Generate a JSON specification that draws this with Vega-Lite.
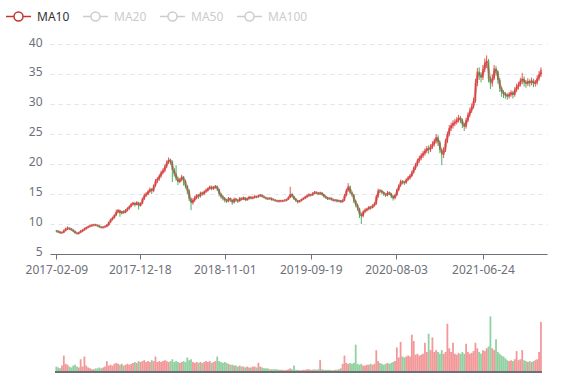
{
"$schema": "https://vega.github.io/schema/vega-lite/v6.json",
"width": 497, "height": 328,
"padding": {"left": 5, "top": 3, "right": 30, "bottom": 8},
"config": {"view": {"stroke": null}, "font": "Noto Sans"},
"data": {"values": [
{"d":"2017-02-09","o":8.9,"c":8.8,"l":8.6,"h":9.0,"m":8.85,"v":30},
{"d":"2017-02-16","o":8.8,"c":8.7,"l":8.5,"h":8.9,"m":8.75,"v":25},
{"d":"2017-02-23","o":8.7,"c":8.5,"l":8.4,"h":8.8,"m":8.6,"v":20},
{"d":"2017-03-02","o":8.5,"c":8.6,"l":8.4,"h":8.7,"m":8.55,"v":35},
{"d":"2017-03-09","o":8.6,"c":8.9,"l":8.5,"h":9.1,"m":8.75,"v":90},
{"d":"2017-03-16","o":8.9,"c":9.2,"l":8.8,"h":9.4,"m":9.05,"v":45},
{"d":"2017-03-23","o":9.2,"c":9.3,"l":9.0,"h":9.6,"m":9.25,"v":40},
{"d":"2017-03-30","o":9.3,"c":9.2,"l":9.0,"h":9.4,"m":9.25,"v":30},
{"d":"2017-04-06","o":9.2,"c":9.0,"l":8.9,"h":9.3,"m":9.1,"v":25},
{"d":"2017-04-13","o":9.0,"c":8.8,"l":8.7,"h":9.1,"m":8.9,"v":35},
{"d":"2017-04-20","o":8.8,"c":8.5,"l":8.4,"h":8.9,"m":8.65,"v":40},
{"d":"2017-04-27","o":8.5,"c":8.4,"l":8.3,"h":8.6,"m":8.45,"v":30},
{"d":"2017-05-04","o":8.4,"c":8.6,"l":8.3,"h":8.7,"m":8.5,"v":25},
{"d":"2017-05-11","o":8.6,"c":8.8,"l":8.5,"h":9.0,"m":8.7,"v":70},
{"d":"2017-05-18","o":8.8,"c":9.0,"l":8.7,"h":9.1,"m":8.9,"v":30},
{"d":"2017-05-25","o":9.0,"c":9.2,"l":8.9,"h":9.4,"m":9.1,"v":85},
{"d":"2017-06-01","o":9.2,"c":9.4,"l":9.1,"h":9.5,"m":9.3,"v":35},
{"d":"2017-06-08","o":9.4,"c":9.6,"l":9.3,"h":9.7,"m":9.5,"v":25},
{"d":"2017-06-15","o":9.6,"c":9.7,"l":9.5,"h":9.9,"m":9.65,"v":20},
{"d":"2017-06-22","o":9.7,"c":9.8,"l":9.6,"h":9.9,"m":9.75,"v":15},
{"d":"2017-06-29","o":9.8,"c":9.9,"l":9.7,"h":10.0,"m":9.85,"v":15},
{"d":"2017-07-06","o":9.9,"c":9.8,"l":9.7,"h":10.0,"m":9.85,"v":20},
{"d":"2017-07-13","o":9.8,"c":9.7,"l":9.6,"h":9.9,"m":9.75,"v":20},
{"d":"2017-07-20","o":9.7,"c":9.5,"l":9.4,"h":9.8,"m":9.6,"v":25},
{"d":"2017-07-27","o":9.5,"c":9.4,"l":9.3,"h":9.6,"m":9.45,"v":20},
{"d":"2017-08-03","o":9.4,"c":9.5,"l":9.3,"h":9.6,"m":9.45,"v":25},
{"d":"2017-08-10","o":9.5,"c":9.6,"l":9.4,"h":9.7,"m":9.55,"v":30},
{"d":"2017-08-17","o":9.6,"c":9.8,"l":9.5,"h":10.0,"m":9.7,"v":60},
{"d":"2017-08-24","o":9.8,"c":10.3,"l":9.7,"h":10.4,"m":10.05,"v":35},
{"d":"2017-08-31","o":10.3,"c":10.8,"l":10.2,"h":10.9,"m":10.55,"v":40},
{"d":"2017-09-07","o":10.8,"c":11.0,"l":10.6,"h":11.2,"m":10.9,"v":35},
{"d":"2017-09-14","o":11.0,"c":11.5,"l":10.9,"h":11.6,"m":11.25,"v":45},
{"d":"2017-09-21","o":11.5,"c":12.0,"l":11.3,"h":12.4,"m":11.75,"v":50},
{"d":"2017-09-28","o":12.0,"c":12.3,"l":11.8,"h":12.5,"m":12.15,"v":45},
{"d":"2017-10-05","o":12.3,"c":11.8,"l":11.2,"h":12.4,"m":12.05,"v":40},
{"d":"2017-10-12","o":11.8,"c":12.1,"l":11.6,"h":12.2,"m":11.95,"v":45},
{"d":"2017-10-19","o":12.1,"c":11.9,"l":11.7,"h":12.3,"m":12.0,"v":35},
{"d":"2017-10-26","o":11.9,"c":12.3,"l":11.8,"h":12.5,"m":12.1,"v":40},
{"d":"2017-11-02","o":12.3,"c":12.6,"l":12.1,"h":12.8,"m":12.45,"v":45},
{"d":"2017-11-09","o":12.6,"c":12.9,"l":12.4,"h":13.1,"m":12.75,"v":40},
{"d":"2017-11-16","o":12.9,"c":13.3,"l":12.8,"h":13.5,"m":13.1,"v":45},
{"d":"2017-11-23","o":13.3,"c":13.5,"l":13.1,"h":13.7,"m":13.4,"v":50},
{"d":"2017-11-30","o":13.5,"c":13.2,"l":12.9,"h":13.6,"m":13.35,"v":55},
{"d":"2017-12-07","o":13.2,"c":13.6,"l":13.1,"h":13.8,"m":13.4,"v":50},
{"d":"2017-12-14","o":13.6,"c":13.0,"l":12.4,"h":13.7,"m":13.3,"v":60},
{"d":"2017-12-21","o":13.0,"c":13.4,"l":12.9,"h":13.6,"m":13.2,"v":55},
{"d":"2017-12-28","o":13.4,"c":14.2,"l":13.3,"h":14.4,"m":13.8,"v":60},
{"d":"2018-01-04","o":14.2,"c":14.8,"l":14.0,"h":15.1,"m":14.5,"v":65},
{"d":"2018-01-11","o":14.8,"c":15.0,"l":14.5,"h":15.3,"m":14.9,"v":55},
{"d":"2018-01-18","o":15.0,"c":15.4,"l":14.8,"h":15.6,"m":15.2,"v":60},
{"d":"2018-01-25","o":15.4,"c":15.8,"l":15.2,"h":16.1,"m":15.6,"v":55},
{"d":"2018-02-01","o":15.8,"c":15.5,"l":15.0,"h":16.0,"m":15.65,"v":65},
{"d":"2018-02-08","o":15.5,"c":16.4,"l":15.3,"h":16.6,"m":15.95,"v":60},
{"d":"2018-02-15","o":16.4,"c":17.2,"l":16.2,"h":17.5,"m":16.8,"v":85},
{"d":"2018-02-22","o":17.2,"c":17.5,"l":16.8,"h":17.8,"m":17.35,"v":55},
{"d":"2018-03-01","o":17.5,"c":18.0,"l":17.2,"h":18.3,"m":17.75,"v":60},
{"d":"2018-03-08","o":18.0,"c":18.6,"l":17.7,"h":18.9,"m":18.3,"v":55},
{"d":"2018-03-15","o":18.6,"c":18.9,"l":18.3,"h":19.3,"m":18.75,"v":60},
{"d":"2018-03-22","o":18.9,"c":19.6,"l":18.6,"h":19.9,"m":19.25,"v":65},
{"d":"2018-03-29","o":19.6,"c":20.3,"l":19.3,"h":20.6,"m":19.95,"v":60},
{"d":"2018-04-05","o":20.3,"c":20.7,"l":20.0,"h":21.1,"m":20.5,"v":55},
{"d":"2018-04-12","o":20.7,"c":20.4,"l":19.9,"h":20.9,"m":20.55,"v":60},
{"d":"2018-04-19","o":20.4,"c":19.0,"l":17.0,"h":20.6,"m":19.7,"v":70},
{"d":"2018-04-26","o":19.0,"c":18.4,"l":17.9,"h":19.3,"m":18.7,"v":55},
{"d":"2018-05-03","o":18.4,"c":17.6,"l":17.2,"h":19.8,"m":18.0,"v":60},
{"d":"2018-05-10","o":17.6,"c":17.0,"l":16.5,"h":17.9,"m":17.3,"v":55},
{"d":"2018-05-17","o":17.0,"c":17.4,"l":16.8,"h":17.7,"m":17.2,"v":50},
{"d":"2018-05-24","o":17.4,"c":17.9,"l":17.1,"h":18.2,"m":17.65,"v":55},
{"d":"2018-05-31","o":17.9,"c":17.2,"l":16.4,"h":18.0,"m":17.55,"v":60},
{"d":"2018-06-07","o":17.2,"c":16.3,"l":15.9,"h":17.4,"m":16.75,"v":55},
{"d":"2018-06-14","o":16.3,"c":15.6,"l":15.0,"h":16.5,"m":15.95,"v":80},
{"d":"2018-06-21","o":15.6,"c":14.2,"l":13.8,"h":15.8,"m":14.9,"v":65},
{"d":"2018-06-28","o":14.2,"c":13.5,"l":12.3,"h":14.4,"m":13.85,"v":70},
{"d":"2018-07-05","o":13.5,"c":14.0,"l":13.2,"h":14.3,"m":13.75,"v":55},
{"d":"2018-07-12","o":14.0,"c":14.4,"l":13.7,"h":14.7,"m":14.2,"v":50},
{"d":"2018-07-19","o":14.4,"c":14.8,"l":14.1,"h":15.0,"m":14.6,"v":55},
{"d":"2018-07-26","o":14.8,"c":14.6,"l":14.2,"h":15.0,"m":14.7,"v":50},
{"d":"2018-08-02","o":14.6,"c":15.2,"l":14.4,"h":15.4,"m":14.9,"v":55},
{"d":"2018-08-09","o":15.2,"c":15.0,"l":14.7,"h":15.4,"m":15.1,"v":50},
{"d":"2018-08-16","o":15.0,"c":15.4,"l":14.8,"h":15.6,"m":15.2,"v":55},
{"d":"2018-08-23","o":15.4,"c":15.6,"l":15.2,"h":15.9,"m":15.5,"v":60},
{"d":"2018-08-30","o":15.6,"c":15.9,"l":15.4,"h":16.1,"m":15.75,"v":55},
{"d":"2018-09-06","o":15.9,"c":16.2,"l":15.7,"h":16.4,"m":16.05,"v":60},
{"d":"2018-09-13","o":16.2,"c":15.9,"l":15.6,"h":16.4,"m":16.05,"v":50},
{"d":"2018-09-20","o":15.9,"c":16.1,"l":15.7,"h":16.3,"m":16.0,"v":55},
{"d":"2018-09-27","o":16.1,"c":16.3,"l":15.9,"h":16.5,"m":16.2,"v":60},
{"d":"2018-10-04","o":16.3,"c":15.8,"l":15.5,"h":16.4,"m":16.05,"v":85},
{"d":"2018-10-11","o":15.8,"c":15.0,"l":14.6,"h":15.9,"m":15.4,"v":60},
{"d":"2018-10-18","o":15.0,"c":14.6,"l":14.2,"h":15.2,"m":14.8,"v":55},
{"d":"2018-10-25","o":14.6,"c":14.3,"l":13.9,"h":14.8,"m":14.45,"v":50},
{"d":"2018-11-01","o":14.3,"c":14.0,"l":13.6,"h":14.5,"m":14.15,"v":55},
{"d":"2018-11-08","o":14.0,"c":13.8,"l":13.5,"h":14.2,"m":13.9,"v":50},
{"d":"2018-11-15","o":13.8,"c":14.3,"l":13.6,"h":14.5,"m":14.05,"v":45},
{"d":"2018-11-22","o":14.3,"c":14.0,"l":13.7,"h":14.4,"m":14.15,"v":40},
{"d":"2018-11-29","o":14.0,"c":13.6,"l":13.2,"h":14.1,"m":13.8,"v":40},
{"d":"2018-12-06","o":13.6,"c":14.2,"l":13.4,"h":14.4,"m":13.9,"v":35},
{"d":"2018-12-13","o":14.2,"c":14.0,"l":13.7,"h":14.3,"m":14.1,"v":35},
{"d":"2018-12-20","o":14.0,"c":13.8,"l":13.5,"h":14.1,"m":13.9,"v":30},
{"d":"2018-12-27","o":13.8,"c":14.3,"l":13.7,"h":14.5,"m":14.05,"v":35},
{"d":"2019-01-03","o":14.3,"c":14.1,"l":13.9,"h":14.4,"m":14.2,"v":30},
{"d":"2019-01-10","o":14.1,"c":14.4,"l":14.0,"h":14.6,"m":14.25,"v":30},
{"d":"2019-01-17","o":14.4,"c":14.0,"l":13.8,"h":14.5,"m":14.2,"v":25},
{"d":"2019-01-24","o":14.0,"c":14.2,"l":13.9,"h":14.4,"m":14.1,"v":30},
{"d":"2019-01-31","o":14.2,"c":14.5,"l":14.1,"h":14.7,"m":14.35,"v":25},
{"d":"2019-02-07","o":14.5,"c":14.3,"l":14.1,"h":14.6,"m":14.4,"v":25},
{"d":"2019-02-14","o":14.3,"c":14.4,"l":14.2,"h":14.6,"m":14.35,"v":30},
{"d":"2019-02-21","o":14.4,"c":14.6,"l":14.3,"h":14.8,"m":14.5,"v":30},
{"d":"2019-02-28","o":14.6,"c":14.5,"l":14.3,"h":14.7,"m":14.55,"v":25},
{"d":"2019-03-07","o":14.5,"c":14.7,"l":14.4,"h":14.9,"m":14.6,"v":50},
{"d":"2019-03-14","o":14.7,"c":14.8,"l":14.6,"h":15.0,"m":14.75,"v":30},
{"d":"2019-03-21","o":14.8,"c":14.6,"l":14.4,"h":14.9,"m":14.7,"v":25},
{"d":"2019-03-28","o":14.6,"c":14.4,"l":14.3,"h":14.7,"m":14.5,"v":20},
{"d":"2019-04-04","o":14.4,"c":14.3,"l":14.1,"h":14.5,"m":14.35,"v":20},
{"d":"2019-04-11","o":14.3,"c":14.2,"l":14.0,"h":14.4,"m":14.25,"v":20},
{"d":"2019-04-18","o":14.2,"c":14.3,"l":14.1,"h":14.4,"m":14.25,"v":15},
{"d":"2019-04-25","o":14.3,"c":14.1,"l":13.9,"h":14.4,"m":14.2,"v":15},
{"d":"2019-05-02","o":14.1,"c":14.0,"l":13.9,"h":14.2,"m":14.05,"v":15},
{"d":"2019-05-09","o":14.0,"c":13.9,"l":13.8,"h":14.1,"m":13.95,"v":15},
{"d":"2019-05-16","o":13.9,"c":13.8,"l":13.7,"h":14.0,"m":13.85,"v":15},
{"d":"2019-05-23","o":13.8,"c":13.9,"l":13.6,"h":14.0,"m":13.85,"v":12},
{"d":"2019-05-30","o":13.9,"c":13.8,"l":13.7,"h":14.0,"m":13.85,"v":12},
{"d":"2019-06-06","o":13.8,"c":13.9,"l":13.7,"h":14.0,"m":13.85,"v":12},
{"d":"2019-06-13","o":13.9,"c":13.9,"l":13.8,"h":14.1,"m":13.9,"v":10},
{"d":"2019-06-20","o":13.9,"c":14.1,"l":13.8,"h":14.2,"m":14.0,"v":12},
{"d":"2019-06-27","o":14.1,"c":14.4,"l":14.0,"h":14.6,"m":14.25,"v":15},
{"d":"2019-07-04","o":14.4,"c":15.0,"l":14.3,"h":16.2,"m":14.7,"v":20},
{"d":"2019-07-11","o":15.0,"c":14.6,"l":14.4,"h":15.2,"m":14.8,"v":15},
{"d":"2019-07-18","o":14.6,"c":14.2,"l":14.0,"h":14.7,"m":14.4,"v":35},
{"d":"2019-07-25","o":14.2,"c":13.9,"l":13.7,"h":14.3,"m":14.05,"v":12},
{"d":"2019-08-01","o":13.9,"c":13.7,"l":13.4,"h":14.0,"m":13.8,"v":12},
{"d":"2019-08-08","o":13.7,"c":13.9,"l":13.6,"h":14.0,"m":13.8,"v":10},
{"d":"2019-08-15","o":13.9,"c":14.1,"l":13.8,"h":14.2,"m":14.0,"v":10},
{"d":"2019-08-22","o":14.1,"c":14.3,"l":14.0,"h":14.4,"m":14.2,"v":12},
{"d":"2019-08-29","o":14.3,"c":14.5,"l":14.2,"h":14.7,"m":14.4,"v":12},
{"d":"2019-09-05","o":14.5,"c":14.7,"l":14.4,"h":14.9,"m":14.6,"v":15},
{"d":"2019-09-12","o":14.7,"c":14.9,"l":14.6,"h":15.1,"m":14.8,"v":15},
{"d":"2019-09-19","o":14.9,"c":14.8,"l":14.6,"h":15.0,"m":14.85,"v":12},
{"d":"2019-09-26","o":14.8,"c":15.1,"l":14.7,"h":15.3,"m":14.95,"v":12},
{"d":"2019-10-03","o":15.1,"c":15.3,"l":15.0,"h":15.5,"m":15.2,"v":15},
{"d":"2019-10-10","o":15.3,"c":15.2,"l":15.0,"h":15.4,"m":15.25,"v":12},
{"d":"2019-10-17","o":15.2,"c":15.0,"l":14.8,"h":15.3,"m":15.1,"v":15},
{"d":"2019-10-24","o":15.0,"c":15.2,"l":14.9,"h":15.4,"m":15.1,"v":65},
{"d":"2019-10-31","o":15.2,"c":14.9,"l":14.7,"h":15.3,"m":15.05,"v":15},
{"d":"2019-11-07","o":14.9,"c":14.6,"l":14.4,"h":15.0,"m":14.75,"v":12},
{"d":"2019-11-14","o":14.6,"c":14.4,"l":14.2,"h":14.7,"m":14.5,"v":12},
{"d":"2019-11-21","o":14.4,"c":14.2,"l":14.0,"h":14.5,"m":14.3,"v":12},
{"d":"2019-11-28","o":14.2,"c":14.3,"l":14.1,"h":14.4,"m":14.25,"v":12},
{"d":"2019-12-05","o":14.3,"c":14.1,"l":13.9,"h":14.4,"m":14.2,"v":10},
{"d":"2019-12-12","o":14.1,"c":13.9,"l":13.8,"h":14.2,"m":14.0,"v":10},
{"d":"2019-12-19","o":13.9,"c":14.0,"l":13.8,"h":14.1,"m":13.95,"v":12},
{"d":"2019-12-26","o":14.0,"c":13.8,"l":13.6,"h":14.1,"m":13.9,"v":12},
{"d":"2020-01-02","o":13.8,"c":13.9,"l":13.7,"h":14.0,"m":13.85,"v":15},
{"d":"2020-01-09","o":13.9,"c":13.7,"l":13.5,"h":14.0,"m":13.8,"v":20},
{"d":"2020-01-16","o":13.7,"c":13.9,"l":13.6,"h":14.1,"m":13.8,"v":45},
{"d":"2020-01-23","o":13.9,"c":14.8,"l":13.8,"h":15.0,"m":14.35,"v":90},
{"d":"2020-01-30","o":14.8,"c":15.6,"l":14.6,"h":15.9,"m":15.2,"v":50},
{"d":"2020-02-06","o":15.6,"c":16.3,"l":15.4,"h":16.8,"m":15.95,"v":45},
{"d":"2020-02-13","o":16.3,"c":15.2,"l":15.0,"h":16.4,"m":15.75,"v":50},
{"d":"2020-02-20","o":15.2,"c":14.9,"l":14.6,"h":15.4,"m":15.05,"v":45},
{"d":"2020-02-27","o":14.9,"c":13.8,"l":13.5,"h":15.0,"m":14.35,"v":50},
{"d":"2020-03-05","o":13.8,"c":13.2,"l":12.8,"h":14.0,"m":13.5,"v":150},
{"d":"2020-03-12","o":13.2,"c":12.6,"l":12.2,"h":13.4,"m":12.9,"v":45},
{"d":"2020-03-19","o":12.6,"c":11.6,"l":11.0,"h":12.7,"m":12.1,"v":40},
{"d":"2020-03-26","o":11.6,"c":11.3,"l":10.0,"h":11.9,"m":11.45,"v":45},
{"d":"2020-04-02","o":11.3,"c":12.1,"l":11.1,"h":12.3,"m":11.7,"v":35},
{"d":"2020-04-09","o":12.1,"c":12.3,"l":11.9,"h":12.6,"m":12.2,"v":35},
{"d":"2020-04-16","o":12.3,"c":12.5,"l":12.1,"h":12.7,"m":12.4,"v":40},
{"d":"2020-04-23","o":12.5,"c":12.8,"l":12.3,"h":13.0,"m":12.65,"v":40},
{"d":"2020-04-30","o":12.8,"c":12.7,"l":12.4,"h":13.0,"m":12.75,"v":45},
{"d":"2020-05-07","o":12.7,"c":13.1,"l":12.6,"h":13.3,"m":12.9,"v":40},
{"d":"2020-05-14","o":13.1,"c":13.3,"l":12.9,"h":13.6,"m":13.2,"v":45},
{"d":"2020-05-21","o":13.3,"c":14.6,"l":13.2,"h":14.9,"m":13.95,"v":120},
{"d":"2020-05-28","o":14.6,"c":15.6,"l":14.4,"h":15.9,"m":15.1,"v":60},
{"d":"2020-06-04","o":15.6,"c":15.5,"l":15.2,"h":15.8,"m":15.55,"v":50},
{"d":"2020-06-11","o":15.5,"c":15.3,"l":15.0,"h":15.7,"m":15.4,"v":45},
{"d":"2020-06-18","o":15.3,"c":15.0,"l":14.7,"h":15.4,"m":15.15,"v":40},
{"d":"2020-06-25","o":15.0,"c":14.8,"l":14.5,"h":15.1,"m":14.9,"v":45},
{"d":"2020-07-02","o":14.8,"c":15.2,"l":14.6,"h":15.5,"m":15.0,"v":50},
{"d":"2020-07-09","o":15.2,"c":15.1,"l":14.8,"h":15.4,"m":15.15,"v":45},
{"d":"2020-07-16","o":15.1,"c":14.6,"l":14.3,"h":15.2,"m":14.85,"v":50},
{"d":"2020-07-23","o":14.6,"c":14.3,"l":13.9,"h":14.8,"m":14.45,"v":55},
{"d":"2020-07-30","o":14.3,"c":14.8,"l":14.1,"h":15.0,"m":14.55,"v":60},
{"d":"2020-08-06","o":14.8,"c":15.7,"l":14.7,"h":15.9,"m":15.25,"v":135},
{"d":"2020-08-13","o":15.7,"c":16.4,"l":15.5,"h":16.6,"m":16.05,"v":80},
{"d":"2020-08-20","o":16.4,"c":17.1,"l":16.2,"h":17.4,"m":16.75,"v":165},
{"d":"2020-08-27","o":17.1,"c":17.0,"l":16.6,"h":17.3,"m":17.05,"v":85},
{"d":"2020-09-03","o":17.0,"c":16.9,"l":16.5,"h":17.2,"m":16.95,"v":80},
{"d":"2020-09-10","o":16.9,"c":17.4,"l":16.7,"h":17.6,"m":17.15,"v":85},
{"d":"2020-09-17","o":17.4,"c":17.7,"l":17.2,"h":18.0,"m":17.55,"v":90},
{"d":"2020-09-24","o":17.7,"c":18.0,"l":17.4,"h":18.3,"m":17.85,"v":85},
{"d":"2020-10-01","o":18.0,"c":18.6,"l":17.8,"h":18.9,"m":18.3,"v":205},
{"d":"2020-10-08","o":18.6,"c":19.3,"l":18.4,"h":19.6,"m":18.95,"v":170},
{"d":"2020-10-15","o":19.3,"c":19.9,"l":19.0,"h":20.2,"m":19.6,"v":95},
{"d":"2020-10-22","o":19.9,"c":20.6,"l":19.6,"h":20.9,"m":20.25,"v":100},
{"d":"2020-10-29","o":20.6,"c":21.0,"l":20.2,"h":21.4,"m":20.8,"v":90},
{"d":"2020-11-05","o":21.0,"c":21.4,"l":20.6,"h":21.8,"m":21.2,"v":95},
{"d":"2020-11-12","o":21.4,"c":21.8,"l":21.0,"h":22.2,"m":21.6,"v":100},
{"d":"2020-11-19","o":21.8,"c":22.2,"l":21.4,"h":22.6,"m":22.0,"v":160},
{"d":"2020-11-26","o":22.2,"c":22.6,"l":21.8,"h":23.0,"m":22.4,"v":110},
{"d":"2020-12-03","o":22.6,"c":22.4,"l":21.7,"h":23.1,"m":22.5,"v":210},
{"d":"2020-12-10","o":22.4,"c":22.9,"l":22.0,"h":23.3,"m":22.65,"v":120},
{"d":"2020-12-17","o":22.9,"c":23.3,"l":22.5,"h":23.8,"m":23.1,"v":190},
{"d":"2020-12-24","o":23.3,"c":23.8,"l":22.9,"h":24.2,"m":23.55,"v":110},
{"d":"2020-12-31","o":23.8,"c":24.5,"l":23.4,"h":25.0,"m":24.15,"v":120},
{"d":"2021-01-07","o":24.5,"c":23.6,"l":23.0,"h":24.8,"m":24.05,"v":110},
{"d":"2021-01-14","o":23.6,"c":22.4,"l":21.8,"h":23.9,"m":23.0,"v":100},
{"d":"2021-01-21","o":22.4,"c":21.5,"l":19.8,"h":22.6,"m":21.95,"v":120},
{"d":"2021-01-28","o":21.5,"c":22.3,"l":21.0,"h":22.8,"m":21.9,"v":100},
{"d":"2021-02-04","o":22.3,"c":23.9,"l":22.0,"h":24.2,"m":23.1,"v":110},
{"d":"2021-02-11","o":23.9,"c":25.0,"l":23.5,"h":25.4,"m":24.45,"v":265},
{"d":"2021-02-18","o":25.0,"c":26.0,"l":24.6,"h":26.5,"m":25.5,"v":130},
{"d":"2021-02-25","o":26.0,"c":26.4,"l":25.5,"h":26.9,"m":26.2,"v":110},
{"d":"2021-03-04","o":26.4,"c":26.8,"l":25.9,"h":27.3,"m":26.6,"v":160},
{"d":"2021-03-11","o":26.8,"c":27.0,"l":26.3,"h":27.5,"m":26.9,"v":100},
{"d":"2021-03-18","o":27.0,"c":27.3,"l":26.6,"h":27.8,"m":27.15,"v":95},
{"d":"2021-03-25","o":27.3,"c":27.7,"l":26.9,"h":28.2,"m":27.5,"v":105},
{"d":"2021-04-01","o":27.7,"c":27.4,"l":26.8,"h":28.0,"m":27.55,"v":100},
{"d":"2021-04-08","o":27.4,"c":26.6,"l":26.0,"h":27.6,"m":27.0,"v":110},
{"d":"2021-04-15","o":26.6,"c":26.2,"l":25.5,"h":26.9,"m":26.4,"v":100},
{"d":"2021-04-22","o":26.2,"c":27.3,"l":25.9,"h":27.7,"m":26.75,"v":155},
{"d":"2021-04-29","o":27.3,"c":28.2,"l":27.0,"h":28.6,"m":27.75,"v":110},
{"d":"2021-05-06","o":28.2,"c":28.9,"l":27.8,"h":29.4,"m":28.55,"v":100},
{"d":"2021-05-13","o":28.9,"c":29.6,"l":28.5,"h":30.1,"m":29.25,"v":105},
{"d":"2021-05-20","o":29.6,"c":30.5,"l":29.2,"h":31.0,"m":30.05,"v":115},
{"d":"2021-05-27","o":30.5,"c":33.5,"l":30.2,"h":34.2,"m":32.0,"v":160},
{"d":"2021-06-03","o":33.5,"c":35.4,"l":33.0,"h":36.0,"m":34.45,"v":130},
{"d":"2021-06-10","o":35.4,"c":34.8,"l":34.0,"h":36.1,"m":35.1,"v":110},
{"d":"2021-06-17","o":34.8,"c":34.4,"l":33.6,"h":35.3,"m":34.6,"v":100},
{"d":"2021-06-24","o":34.4,"c":35.8,"l":34.0,"h":36.5,"m":35.1,"v":120},
{"d":"2021-07-01","o":35.8,"c":36.9,"l":35.3,"h":37.6,"m":36.35,"v":115},
{"d":"2021-07-08","o":36.9,"c":37.2,"l":36.0,"h":38.1,"m":37.05,"v":130},
{"d":"2021-07-15","o":37.2,"c":34.2,"l":33.6,"h":37.5,"m":35.7,"v":140},
{"d":"2021-07-22","o":34.2,"c":33.4,"l":32.5,"h":34.6,"m":33.8,"v":305},
{"d":"2021-07-29","o":33.4,"c":34.3,"l":32.9,"h":34.9,"m":33.85,"v":130},
{"d":"2021-08-05","o":34.3,"c":35.9,"l":34.0,"h":36.5,"m":35.1,"v":120},
{"d":"2021-08-12","o":35.9,"c":35.4,"l":34.7,"h":36.3,"m":35.65,"v":180},
{"d":"2021-08-19","o":35.4,"c":34.0,"l":33.4,"h":35.6,"m":34.7,"v":110},
{"d":"2021-08-26","o":34.0,"c":32.6,"l":32.0,"h":34.3,"m":33.3,"v":100},
{"d":"2021-09-02","o":32.6,"c":32.0,"l":31.2,"h":32.9,"m":32.3,"v":90},
{"d":"2021-09-09","o":32.0,"c":31.7,"l":31.0,"h":32.3,"m":31.85,"v":85},
{"d":"2021-09-16","o":31.7,"c":31.5,"l":30.9,"h":32.0,"m":31.6,"v":75},
{"d":"2021-09-23","o":31.5,"c":31.3,"l":30.7,"h":31.8,"m":31.4,"v":65},
{"d":"2021-09-30","o":31.3,"c":31.6,"l":30.9,"h":32.0,"m":31.45,"v":60},
{"d":"2021-10-07","o":31.6,"c":31.9,"l":31.2,"h":32.3,"m":31.75,"v":65},
{"d":"2021-10-14","o":31.9,"c":31.5,"l":30.9,"h":32.2,"m":31.7,"v":60},
{"d":"2021-10-21","o":31.5,"c":32.4,"l":31.2,"h":32.8,"m":31.95,"v":70},
{"d":"2021-10-28","o":32.4,"c":32.9,"l":32.0,"h":33.4,"m":32.65,"v":115},
{"d":"2021-11-04","o":32.9,"c":33.2,"l":32.4,"h":33.7,"m":33.05,"v":65},
{"d":"2021-11-11","o":33.2,"c":33.9,"l":32.9,"h":34.4,"m":33.55,"v":70},
{"d":"2021-11-18","o":33.9,"c":34.2,"l":33.3,"h":35.2,"m":34.05,"v":120},
{"d":"2021-11-25","o":34.2,"c":33.6,"l":32.9,"h":34.6,"m":33.9,"v":65},
{"d":"2021-12-02","o":33.6,"c":33.4,"l":32.7,"h":34.0,"m":33.5,"v":60},
{"d":"2021-12-09","o":33.4,"c":33.8,"l":33.0,"h":34.3,"m":33.6,"v":55},
{"d":"2021-12-16","o":33.8,"c":33.5,"l":32.9,"h":34.1,"m":33.65,"v":60},
{"d":"2021-12-23","o":33.5,"c":33.9,"l":33.1,"h":34.4,"m":33.7,"v":55},
{"d":"2021-12-30","o":33.9,"c":33.4,"l":32.8,"h":34.2,"m":33.65,"v":60},
{"d":"2022-01-06","o":33.4,"c":33.6,"l":32.9,"h":34.0,"m":33.5,"v":65},
{"d":"2022-01-13","o":33.6,"c":34.3,"l":33.2,"h":34.8,"m":33.95,"v":70},
{"d":"2022-01-20","o":34.3,"c":34.9,"l":33.9,"h":35.5,"m":34.6,"v":110},
{"d":"2022-01-27","o":34.9,"c":35.7,"l":34.5,"h":36.1,"m":35.3,"v":275}
]},
"encoding": {
  "x": {"field": "d", "type": "temporal",
    "scale": {"type": "utc", "domain": [{"year": 2017, "month": 2, "date": 4, "utc": true}, {"year": 2022, "month": 1, "date": 31, "utc": true}]},
    "axis": {"title": null, "grid": false, "offset": -118, "format": "%Y-%m-%d",
      "values": [{"year": 2017, "month": 2, "date": 9, "utc": true}, {"year": 2017, "month": 12, "date": 18, "utc": true}, {"year": 2018, "month": 11, "date": 1, "utc": true}, {"year": 2019, "month": 9, "date": 19, "utc": true}, {"year": 2020, "month": 8, "date": 3, "utc": true}, {"year": 2021, "month": 6, "date": 24, "utc": true}],
      "domainColor": "#6E7079", "tickColor": "#6E7079", "tickSize": 5, "labelColor": "#6E7079", "labelFontSize": 12, "labelPadding": 5, "labelFlush": false, "labelOverlap": false}}
},
"layer": [
  {"layer": [
    {"mark": {"type": "rule", "strokeWidth": 1},
     "encoding": {
       "y": {"field": "l", "type": "quantitative", "scale": {"domain": [-14.667, 40], "nice": false, "zero": false},
         "axis": {"title": null, "values": [5, 10, 15, 20, 25, 30, 35, 40], "domain": false, "ticks": false, "tickSize": 0, "labelPadding": 8, "labelOffset": -2, "labelColor": "#6E7079", "labelFontSize": 12, "grid": true, "gridColor": "#E0E6F1", "gridDash": [4, 4]}},
       "y2": {"field": "h"},
       "color": {"condition": {"test": "datum.c >= datum.o", "value": "#eb5454"}, "value": "#47b262"}}},
    {"mark": {"type": "bar", "size": 1.6},
     "encoding": {
       "y": {"field": "o", "type": "quantitative"},
       "y2": {"field": "c"},
       "color": {"condition": {"test": "datum.c >= datum.o", "value": "#eb5454"}, "value": "#47b262"}}},
    {"mark": {"type": "line", "interpolate": "monotone", "strokeWidth": 2.5, "strokeOpacity": 0.5},
     "encoding": {
       "y": {"field": "m", "type": "quantitative"},
       "color": {"datum": "MA10", "type": "nominal",
         "scale": {"domain": ["MA10", "MA20", "MA50", "MA100"], "range": ["#c23531", "#cccccc", "#cccccc", "#cccccc"]},
         "legend": {"orient": "none", "legendX": -45, "legendY": -41, "direction": "horizontal", "title": null,
           "symbolType": "M-1,0L-0.36,0M0.36,0L1,0M0.36,0A0.36,0.36,0,1,1,-0.36,0A0.36,0.36,0,1,1,0.36,0",
           "symbolSize": 625, "symbolStrokeWidth": 1.5, "symbolFillColor": "#ffffff", "symbolOpacity": 1,
           "labelFontSize": 12, "labelOffset": 5, "columnPadding": 10,
           "labelColor": {"expr": "datum.value === 'MA10' ? '#333333' : '#cccccc'"}}}}}
  ]},
  {"layer": [
    {"mark": {"type": "bar", "size": 1.8, "opacity": 0.6},
     "encoding": {
       "y": {"field": "v", "type": "quantitative", "scale": {"domain": [0, 1640]}, "axis": null},
       "color": {"condition": {"test": "datum.c >= datum.o", "value": "#eb5454"}, "value": "#47b262"}}},
    {"mark": {"type": "rule", "color": "#6E7079", "strokeWidth": 1},
     "encoding": {
       "x": {"datum": {"year": 2017, "month": 2, "date": 4, "utc": true}},
       "x2": {"datum": {"year": 2022, "month": 1, "date": 31, "utc": true}},
       "y": {"datum": 0}}}
  ]}
],
"resolve": {"scale": {"y": "independent"}, "axis": {"y": "independent"}}
}
